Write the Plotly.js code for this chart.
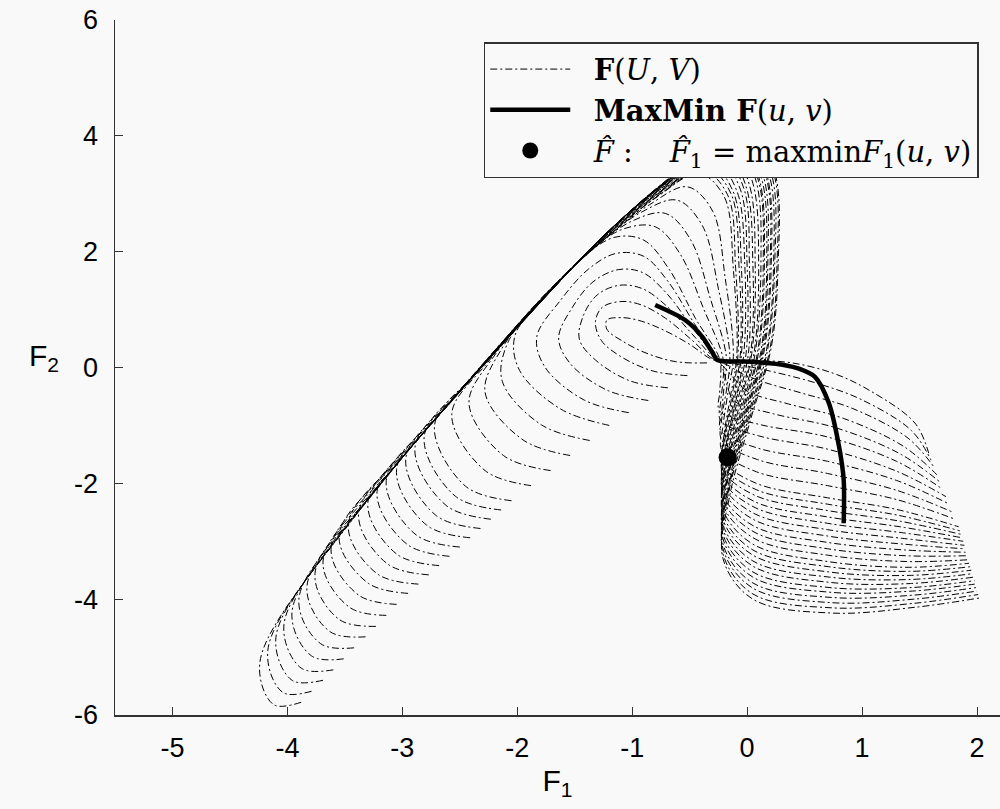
<!DOCTYPE html>
<html>
<head>
<meta charset="utf-8">
<script src="https://cdn.plot.ly/plotly-3.0.1.min.js"></script>
<style>html,body{margin:0;padding:0;background:#f9f9f9;}#chart{width:1000px;height:809px;}</style>
</head>
<body>
<div id="chart"></div>
<script>
// ---- family F(U,V): one curve per u (points estimated from the figure) ----
const c00x = [-3.88,-4.12,-4.24,-3.65,-2.30,-1.10,-0.45,0.05,0.25,0.27,0.21,0.03,-0.15,-0.21,0.05,0.74,1.46,2.02];
const c00y = [-5.78,-5.82,-5.10,-3.15,0.02,2.55,3.60,4.20,3.30,1.80,0.35,-0.90,-2.20,-3.30,-4.00,-4.24,-4.14,-3.98];
const d00x = [-3.79,-4.04,-4.17,-3.58,-2.27,-1.10,-0.46,0.04,0.24,0.26,0.20,0.02,-0.16,-0.21,0.05,0.74,1.46,2.01];
const d00y = [-5.59,-5.61,-4.88,-2.98,0.09,2.55,3.59,4.17,3.29,1.80,0.34,-0.89,-2.15,-3.22,-3.91,-4.15,-4.07,-3.92];
const c01x = [-3.69,-3.96,-4.10,-3.51,-2.24,-1.10,-0.46,0.02,0.22,0.24,0.18,0.01,-0.16,-0.21,0.05,0.73,1.45,2.00];
const c01y = [-5.40,-5.40,-4.66,-2.81,0.16,2.55,3.57,4.14,3.28,1.80,0.33,-0.88,-2.10,-3.13,-3.81,-4.06,-4.00,-3.86];
const d01x = [-3.60,-3.88,-4.03,-3.44,-2.21,-1.10,-0.47,0.01,0.20,0.23,0.17,0.00,-0.16,-0.21,0.05,0.73,1.45,1.99];
const d01y = [-5.22,-5.19,-4.44,-2.64,0.23,2.55,3.56,4.11,3.27,1.80,0.32,-0.87,-2.05,-3.05,-3.72,-3.97,-3.93,-3.80];
const c02x = [-3.51,-3.79,-3.96,-3.37,-2.18,-1.10,-0.47,-0.01,0.18,0.21,0.15,-0.01,-0.16,-0.21,0.05,0.72,1.44,1.98];
const c02y = [-5.03,-4.98,-4.22,-2.46,0.29,2.55,3.54,4.08,3.26,1.80,0.31,-0.86,-2.00,-2.96,-3.62,-3.88,-3.86,-3.74];
const d02x = [-3.42,-3.71,-3.90,-3.30,-2.15,-1.10,-0.48,-0.03,0.17,0.20,0.14,-0.02,-0.17,-0.21,0.05,0.72,1.43,1.98];
const d02y = [-4.84,-4.77,-4.00,-2.29,0.36,2.55,3.53,4.05,3.25,1.80,0.30,-0.85,-1.95,-2.88,-3.53,-3.80,-3.80,-3.68];
const c03x = [-3.32,-3.63,-3.83,-3.23,-2.12,-1.10,-0.48,-0.04,0.15,0.18,0.13,-0.02,-0.17,-0.21,0.05,0.72,1.42,1.97];
const c03y = [-4.65,-4.56,-3.78,-2.12,0.43,2.55,3.51,4.02,3.24,1.80,0.29,-0.84,-1.90,-2.79,-3.43,-3.71,-3.73,-3.62];
const d03x = [-3.23,-3.55,-3.76,-3.16,-2.09,-1.10,-0.49,-0.06,0.13,0.17,0.12,-0.03,-0.17,-0.21,0.05,0.72,1.42,1.96];
const d03y = [-4.47,-4.35,-3.56,-1.95,0.50,2.55,3.50,3.99,3.23,1.80,0.28,-0.83,-1.85,-2.71,-3.34,-3.62,-3.66,-3.56];
const c04x = [-3.14,-3.46,-3.69,-3.09,-2.06,-1.10,-0.49,-0.07,0.11,0.15,0.10,-0.04,-0.17,-0.21,0.05,0.71,1.41,1.95];
const c04y = [-4.28,-4.14,-3.34,-1.77,0.56,2.55,3.48,3.96,3.22,1.80,0.27,-0.82,-1.80,-2.62,-3.24,-3.53,-3.59,-3.50];
const d04x = [-3.05,-3.38,-3.62,-3.02,-2.03,-1.10,-0.50,-0.09,0.10,0.14,0.09,-0.05,-0.18,-0.21,0.05,0.71,1.41,1.94];
const d04y = [-4.09,-3.93,-3.12,-1.60,0.63,2.55,3.47,3.93,3.21,1.80,0.26,-0.81,-1.75,-2.54,-3.15,-3.44,-3.52,-3.44];
const c05x = [-2.95,-3.30,-3.55,-2.95,-2.00,-1.10,-0.50,-0.10,0.08,0.12,0.07,-0.06,-0.18,-0.21,0.05,0.70,1.40,1.93];
const c05y = [-3.90,-3.72,-2.90,-1.43,0.70,2.55,3.45,3.90,3.20,1.80,0.25,-0.80,-1.70,-2.45,-3.05,-3.35,-3.45,-3.38];
const d05x = [-2.86,-3.22,-3.47,-2.89,-1.97,-1.11,-0.53,-0.13,0.05,0.10,0.06,-0.07,-0.18,-0.21,0.06,0.70,1.39,1.92];
const d05y = [-3.74,-3.56,-2.71,-1.29,0.77,2.52,3.40,3.85,3.18,1.79,0.25,-0.78,-1.65,-2.37,-2.95,-3.24,-3.35,-3.32];
const c06x = [-2.77,-3.13,-3.38,-2.82,-1.94,-1.12,-0.56,-0.16,0.02,0.07,0.04,-0.08,-0.18,-0.21,0.06,0.70,1.38,1.91];
const c06y = [-3.58,-3.39,-2.52,-1.14,0.83,2.49,3.35,3.79,3.15,1.78,0.24,-0.75,-1.59,-2.28,-2.84,-3.13,-3.25,-3.25];
const d06x = [-2.68,-3.05,-3.30,-2.76,-1.92,-1.14,-0.59,-0.20,-0.01,0.05,0.03,-0.09,-0.19,-0.21,0.06,0.70,1.37,1.90];
const d06y = [-3.42,-3.22,-2.33,-1.00,0.90,2.46,3.30,3.74,3.13,1.77,0.24,-0.73,-1.54,-2.20,-2.74,-3.02,-3.15,-3.19];
const c07x = [-2.59,-2.96,-3.22,-2.69,-1.89,-1.15,-0.61,-0.23,-0.03,0.02,0.01,-0.10,-0.19,-0.21,0.06,0.70,1.36,1.89];
const c07y = [-3.26,-3.05,-2.14,-0.85,0.96,2.43,3.25,3.68,3.10,1.76,0.23,-0.70,-1.48,-2.11,-2.63,-2.91,-3.05,-3.13];
const d07x = [-2.50,-2.88,-3.14,-2.63,-1.86,-1.16,-0.64,-0.26,-0.06,0.00,-0.01,-0.11,-0.19,-0.21,0.07,0.70,1.35,1.89];
const d07y = [-3.10,-2.89,-1.95,-0.71,1.02,2.40,3.20,3.63,3.08,1.75,0.23,-0.68,-1.43,-2.03,-2.53,-2.80,-2.95,-3.07];
const c08x = [-2.41,-2.79,-3.05,-2.56,-1.83,-1.17,-0.67,-0.29,-0.09,-0.02,-0.03,-0.11,-0.19,-0.21,0.07,0.70,1.34,1.88];
const c08y = [-2.94,-2.72,-1.76,-0.56,1.08,2.37,3.15,3.57,3.05,1.74,0.22,-0.65,-1.37,-1.94,-2.42,-2.69,-2.85,-3.00];
const d08x = [-2.32,-2.71,-2.97,-2.50,-1.81,-1.19,-0.70,-0.33,-0.12,-0.05,-0.05,-0.12,-0.20,-0.21,0.07,0.70,1.33,1.87];
const d08y = [-2.78,-2.55,-1.57,-0.42,1.15,2.34,3.10,3.52,3.03,1.73,0.22,-0.63,-1.32,-1.86,-2.32,-2.58,-2.75,-2.94];
const c09x = [-2.23,-2.62,-2.89,-2.43,-1.78,-1.20,-0.72,-0.36,-0.14,-0.07,-0.06,-0.13,-0.20,-0.21,0.07,0.70,1.32,1.86];
const c09y = [-2.62,-2.38,-1.38,-0.27,1.21,2.31,3.05,3.46,3.00,1.72,0.21,-0.60,-1.26,-1.77,-2.21,-2.47,-2.65,-2.88];
const d09x = [-2.14,-2.54,-2.81,-2.37,-1.75,-1.21,-0.75,-0.39,-0.17,-0.10,-0.08,-0.14,-0.20,-0.21,0.08,0.70,1.31,1.85];
const d09y = [-2.46,-2.22,-1.19,-0.13,1.28,2.28,3.00,3.41,2.98,1.71,0.21,-0.58,-1.21,-1.69,-2.11,-2.36,-2.55,-2.82];
const c10x = [-2.05,-2.45,-2.72,-2.30,-1.72,-1.22,-0.78,-0.42,-0.20,-0.12,-0.09,-0.15,-0.20,-0.21,0.08,0.70,1.30,1.84];
const c10y = [-2.30,-2.05,-1.00,0.02,1.34,2.25,2.95,3.35,2.95,1.70,0.20,-0.55,-1.15,-1.60,-2.00,-2.25,-2.45,-2.75];
const c11x = [-1.88,-2.28,-2.57,-2.24,-1.72,-1.26,-0.85,-0.52,-0.30,-0.19,-0.12,-0.17,-0.21,-0.22,0.08,0.70,1.30,1.81];
const c11y = [-2.04,-1.78,-0.81,0.13,1.33,2.18,2.81,3.12,2.70,1.53,0.19,-0.47,-1.01,-1.43,-1.80,-2.04,-2.28,-2.62];
const c12x = [-1.71,-2.12,-2.42,-2.19,-1.72,-1.30,-0.93,-0.61,-0.39,-0.25,-0.15,-0.18,-0.22,-0.22,0.09,0.70,1.30,1.78];
const c12y = [-1.78,-1.52,-0.62,0.23,1.32,2.12,2.67,2.89,2.45,1.36,0.18,-0.39,-0.87,-1.26,-1.59,-1.83,-2.12,-2.49];
const c13x = [-1.54,-1.95,-2.28,-2.13,-1.72,-1.34,-1.00,-0.71,-0.49,-0.32,-0.18,-0.20,-0.22,-0.23,0.09,0.70,1.30,1.76];
const c13y = [-1.52,-1.25,-0.43,0.34,1.32,2.05,2.53,2.66,2.20,1.19,0.17,-0.31,-0.73,-1.09,-1.39,-1.62,-1.95,-2.36];
const c14x = [-1.37,-1.79,-2.13,-2.08,-1.72,-1.38,-1.08,-0.80,-0.58,-0.38,-0.21,-0.21,-0.23,-0.23,0.10,0.70,1.30,1.73];
const c14y = [-1.26,-0.99,-0.24,0.44,1.31,1.99,2.39,2.43,1.95,1.02,0.16,-0.23,-0.59,-0.92,-1.18,-1.41,-1.79,-2.23];
const c15x = [-1.20,-1.62,-1.98,-2.02,-1.72,-1.42,-1.15,-0.90,-0.68,-0.45,-0.24,-0.23,-0.24,-0.24,0.10,0.70,1.30,1.70];
const c15y = [-1.00,-0.72,-0.05,0.55,1.30,1.92,2.25,2.20,1.70,0.85,0.15,-0.15,-0.45,-0.75,-0.98,-1.20,-1.62,-2.10];
const c16x = [-1.03,-1.42,-1.76,-1.83,-1.62,-1.38,-1.14,-0.90,-0.69,-0.46,-0.25,-0.20,-0.17,-0.11,0.23,0.77,1.33,1.68];
const c16y = [-0.78,-0.56,0.01,0.53,1.17,1.70,1.97,1.92,1.49,0.76,0.15,-0.09,-0.34,-0.58,-0.80,-1.04,-1.49,-1.98];
const c17x = [-0.86,-1.22,-1.54,-1.64,-1.52,-1.34,-1.12,-0.91,-0.70,-0.47,-0.26,-0.18,-0.10,0.01,0.36,0.84,1.36,1.65];
const c17y = [-0.57,-0.39,0.07,0.51,1.04,1.48,1.69,1.64,1.28,0.67,0.14,-0.04,-0.22,-0.42,-0.63,-0.88,-1.36,-1.85];
const c18x = [-0.69,-1.02,-1.32,-1.46,-1.42,-1.30,-1.11,-0.91,-0.70,-0.48,-0.27,-0.15,-0.04,0.14,0.49,0.92,1.40,1.63];
const c18y = [-0.35,-0.23,0.13,0.49,0.92,1.26,1.42,1.36,1.06,0.58,0.14,0.02,-0.11,-0.25,-0.45,-0.71,-1.22,-1.73];
const c19x = [-0.52,-0.82,-1.10,-1.27,-1.32,-1.26,-1.09,-0.92,-0.71,-0.49,-0.28,-0.13,0.03,0.26,0.62,0.99,1.43,1.60];
const c19y = [-0.14,-0.06,0.19,0.47,0.79,1.04,1.14,1.08,0.85,0.49,0.13,0.07,0.01,-0.09,-0.28,-0.55,-1.09,-1.60];
const c20x = [-0.35,-0.62,-0.88,-1.08,-1.22,-1.22,-1.08,-0.92,-0.72,-0.50,-0.29,-0.10,0.10,0.39,0.75,1.06,1.46,1.58];
const c20y = [0.08,0.10,0.25,0.45,0.66,0.82,0.86,0.80,0.64,0.40,0.13,0.13,0.12,0.08,-0.10,-0.39,-0.96,-1.48];

// ---- MaxMin curve ----
const maxminX = [-0.80,-0.54,-0.39,-0.30,-0.26,0.04,0.33,0.45,0.59,0.71,0.80,0.84,0.84];
const maxminY = [1.08,0.82,0.53,0.25,0.13,0.10,0.04,-0.02,-0.16,-0.61,-1.37,-1.94,-2.69];

// ---- F-hat point ----
const fhatX = [-0.17];
const fhatY = [-1.55];

// ---- ticks ----
const xTickVals = [-5,-4,-3,-2,-1,0,1,2];
const xTickText = ['-5','-4','-3','-2','-1','0','1','2'];
const yTickVals = [-6,-4,-2,0,2,4,6];
const yTickText = ['-6','-4','-2','0','2','4','6'];

const famX = [c00x,d00x,c01x,d01x,c02x,d02x,c03x,d03x,c04x,d04x,c05x,d05x,c06x,d06x,c07x,d07x,c08x,d08x,c09x,d09x,c10x,c11x,c12x,c13x,c14x,c15x,c16x,c17x,c18x,c19x,c20x];
const famY = [c00y,d00y,c01y,d01y,c02y,d02y,c03y,d03y,c04y,d04y,c05y,d05y,c06y,d06y,c07y,d07y,c08y,d08y,c09y,d09y,c10y,c11y,c12y,c13y,c14y,c15y,c16y,c17y,c18y,c19y,c20y];

const pre = '\u00a0\u00a0';
const traces = [];
famX.forEach((xs, i) => {
  traces.push({
    type: 'scatter', mode: 'lines', x: xs, y: famY[i],
    line: {color: '#000', width: 1, dash: '7px,3px,2px,3px', shape: 'spline', smoothing: 1},
    name: pre + '<b>F</b>(<i>U</i>, <i>V</i>)',
    legendgroup: 'fam', showlegend: i === 0, hoverinfo: 'skip'
  });
});
traces.push({
  type: 'scatter', mode: 'lines', x: maxminX, y: maxminY,
  line: {color: '#000', width: 4.5, shape: 'spline', smoothing: 0.8},
  name: pre + '<b>MaxMin F</b>(<i>u</i>, <i>v</i>)', legendgroup: 'mm'
});
traces.push({
  type: 'scatter', mode: 'markers', x: fhatX, y: fhatY,
  marker: {color: '#000', size: 18},
  name: pre + '<i>F\u0302</i> :\u00a0\u00a0\u00a0 <i>F\u0302</i><sub>1</sub> = maxmin<i>F</i><sub>1</sub>(<i>u</i>, <i>v</i>)',
  legendgroup: 'pt'
});

const sans = 'Liberation Sans Narrow, Liberation Sans, Arial, sans-serif';
const layout = {
  width: 1000, height: 809,
  margin: {l: 115, r: 0, t: 20, b: 94},
  paper_bgcolor: '#f9f9f9', plot_bgcolor: '#f9f9f9',
  showlegend: true,
  xaxis: {
    range: [-5.5, 2.2], tickvals: xTickVals, ticktext: xTickText,
    ticks: 'inside', ticklen: 8, tickwidth: 1, tickcolor: '#333',
    showline: true, linecolor: '#333', linewidth: 1.5,
    showgrid: false, zeroline: false,
    tickfont: {family: sans, size: 27, color: '#000'},
    ticklabelstandoff: 8,
    title: {text: 'F<sub>1</sub>', font: {family: sans, size: 30, color: '#000'}, standoff: 8}
  },
  yaxis: {
    range: [-6, 6], tickvals: yTickVals, ticktext: yTickText,
    ticks: 'inside', ticklen: 8, tickwidth: 1, tickcolor: '#333',
    showline: true, linecolor: '#333', linewidth: 1.5,
    showgrid: false, zeroline: false,
    tickfont: {family: sans, size: 27, color: '#000'},
    ticklabelstandoff: 10,
    title: {text: ''}
  },
  annotations: [{
    xref: 'paper', yref: 'paper', x: -0.1, y: 0.515, showarrow: false,
    text: 'F<sub>2</sub>', font: {family: sans, size: 30, color: '#000'}
  }],
  legend: {
    x: 0.976, xanchor: 'right', y: 0.968, yanchor: 'top',
    bgcolor: '#f9f9f9', bordercolor: '#333', borderwidth: 1.5,
    font: {family: 'DejaVu Serif, Liberation Serif, serif', size: 29, color: '#000'},
    itemwidth: 80, tracegroupgap: 0
  },
  hovermode: false
};
Plotly.newPlot('chart', traces, layout, {staticPlot: true, displayModeBar: false});
</script>
</body>
</html>
